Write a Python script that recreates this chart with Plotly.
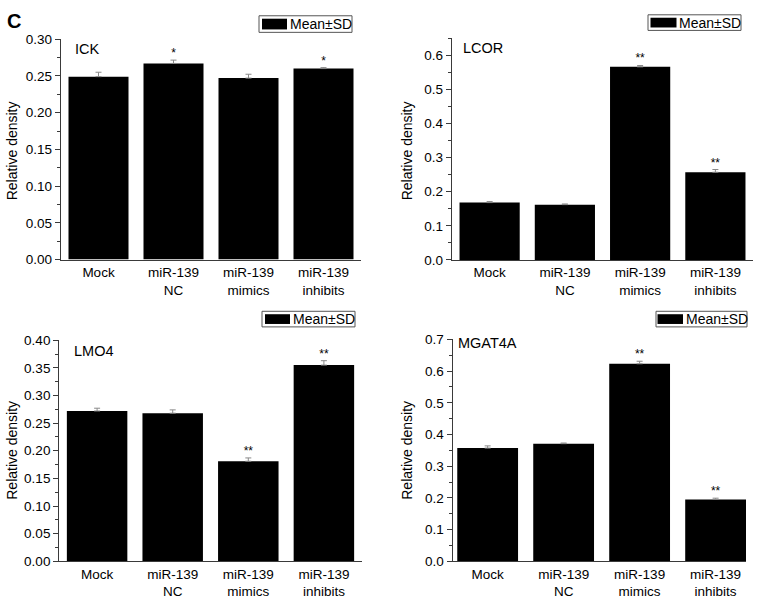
import plotly.graph_objects as go

W, H = 759, 607
FONT = "Liberation Sans, Arial, Helvetica, sans-serif"

categories = ["Mock", "miR-139<br>NC", "miR-139<br>mimics", "miR-139<br>inhibits"]

# ---- data ----
ick_mean = [0.249, 0.267, 0.247, 0.260]
ick_sd = [0.006, 0.0045, 0.0053, 0.0013]
ick_sig = ["", "*", "", "*"]

lcor_mean = [0.168, 0.162, 0.566, 0.257]
lcor_sd = [0.003, 0.002, 0.004, 0.008]
lcor_sig = ["", "", "**", "**"]

lmo4_mean = [0.272, 0.268, 0.181, 0.355]
lmo4_sd = [0.005, 0.006, 0.006, 0.008]
lmo4_sig = ["", "", "**", "**"]

mgat_mean = [0.357, 0.371, 0.623, 0.195]
mgat_sd = [0.007, 0.002, 0.008, 0.004]
mgat_sig = ["", "", "**", "**"]

panel_titles = ["ICK", "LCOR", "LMO4", "MGAT4A"]
legend_label = "Mean±SD"
y_title = "Relative density"

panels = [
    dict(mean=ick_mean, sd=ick_sd, sig=ick_sig, ax="", xd=(61, 361), yd=(33, 259),
         yr=(0, 0.30), dt=0.05, fmt=".2f", xr=(-0.5, 3.5)),
    dict(mean=lcor_mean, sd=lcor_sd, sig=lcor_sig, ax="2", xd=(452, 753), yd=(32, 259.3),
         yr=(0, 0.65), dt=0.1, fmt=".1f", xr=(-0.5, 3.5)),
    dict(mean=lmo4_mean, sd=lmo4_sd, sig=lmo4_sig, ax="3", xd=(59.3, 361.7), yd=(341.7, 568.3),
         yr=(0, 0.40), dt=0.05, fmt=".2f", xr=(-0.5, 3.5)),
    dict(mean=mgat_mean, sd=mgat_sd, sig=mgat_sig, ax="4", xd=(452.7, 746), yd=(340.8, 568.3),
         yr=(0, 0.70), dt=0.1, fmt=".1f", xr=(-0.46, 3.40)),
]

fig = go.Figure()
layout = dict(
    width=W, height=H, margin=dict(l=0, r=0, t=0, b=0),
    paper_bgcolor="white", plot_bgcolor="white", showlegend=False,
    font=dict(family=FONT, size=13.5, color="black"), hovermode=False,
)

AXC = "#3a3a3a"
TF = 13.5
for p in panels:
    xa = "x" + p["ax"]
    ya = "y" + p["ax"]
    fig.add_trace(go.Bar(
        x=categories, y=p["mean"], xaxis=xa, yaxis=ya, width=0.8,
        marker=dict(color="black", line=dict(width=0)),
        error_y=dict(type="data", symmetric=False, array=p["sd"],
                     arrayminus=[0] * len(p["sd"]), color="#8a8a8a",
                     thickness=1, width=3),
    ))
    fig.add_trace(go.Scatter(
        x=categories, y=[m + s for m, s in zip(p["mean"], p["sd"])],
        xaxis=xa, yaxis=ya, mode="text", text=p["sig"],
        textposition="top center", textfont=dict(size=12, color="black"),
        cliponaxis=False,
    ))
    x0, x1 = p["xd"]
    yt, yb = p["yd"]
    layout["xaxis" + p["ax"]] = dict(
        domain=[x0 / W, x1 / W], anchor=ya, range=list(p["xr"]),
        showline=True, linecolor=AXC, linewidth=1.2, ticks="",
        tickfont=dict(size=TF), showgrid=False, zeroline=False,
        fixedrange=True,
    )
    layout["yaxis" + p["ax"]] = dict(
        domain=[1 - yb / H, 1 - yt / H], anchor=xa, range=list(p["yr"]),
        showline=True, linecolor=AXC, linewidth=1.2, ticks="outside",
        ticklen=5, tickcolor=AXC, tickwidth=1, dtick=p["dt"], tick0=0,
        tickformat=p["fmt"], tickfont=dict(size=TF), showgrid=False,
        zeroline=False, fixedrange=True,
        minor=dict(ticks="outside", ticklen=3, tickcolor=AXC, dtick=p["dt"] / 2,
                   showgrid=False),
    )

annotations = []
shapes = []

annotations.append(dict(x=5 / W, y=1 - 14 / H, xref="paper", yref="paper", text="<b>C</b>",
                        showarrow=False, xanchor="left", yanchor="middle",
                        font=dict(size=20, family=FONT)))

title_pos = [(73, 43), (461, 42), (72, 353), (456, 345)]
for t, (tx, ty) in zip(panel_titles, title_pos):
    annotations.append(dict(x=tx / W, y=1 - ty / H, xref="paper", yref="paper", text=t,
                            showarrow=False, xanchor="left", yanchor="middle",
                            font=dict(size=14.5, family=FONT)))

ytitle_pos = [(12, 148), (407, 148), (12, 455), (407, 455)]
for tx, ty in ytitle_pos:
    annotations.append(dict(x=tx / W, y=1 - ty / H, xref="paper", yref="paper", text=y_title,
                            showarrow=False, textangle=-90, xanchor="center", yanchor="middle",
                            font=dict(size=14, family=FONT)))

legend_geom = [
    ((259, 9, 352, 26), (262, 12, 287, 23)),
    ((648, 8, 741, 24), (650.5, 11, 676.5, 21)),
    ((262, 312, 355, 328), (265, 315, 290, 325)),
    ((656, 312, 747, 328), (657.5, 315, 683, 325)),
]
for (bx0, by0, bx1, by1), (sx0, sy0, sx1, sy1) in legend_geom:
    shapes.append(dict(type="rect", xref="paper", yref="paper",
                       x0=bx0 / W, x1=bx1 / W, y0=1 - by1 / H, y1=1 - by0 / H,
                       line=dict(color="#555555", width=1), fillcolor="white"))
    shapes.append(dict(type="rect", xref="paper", yref="paper",
                       x0=sx0 / W, x1=sx1 / W, y0=1 - sy1 / H, y1=1 - sy0 / H,
                       line=dict(width=0), fillcolor="black"))
    annotations.append(dict(x=(sx1 + 0.5) / W, y=1 - ((by0 + by1) / 2) / H, xref="paper", yref="paper",
                            text=legend_label, showarrow=False, xanchor="left", yanchor="middle",
                            font=dict(size=14, family=FONT)))

layout["annotations"] = annotations
layout["shapes"] = shapes
fig.update_layout(**layout)
fig.write_html("out.html", config={"displayModeBar": False, "staticPlot": True},
               post_script="document.body.style.margin='0';document.body.style.overflow='hidden';")
